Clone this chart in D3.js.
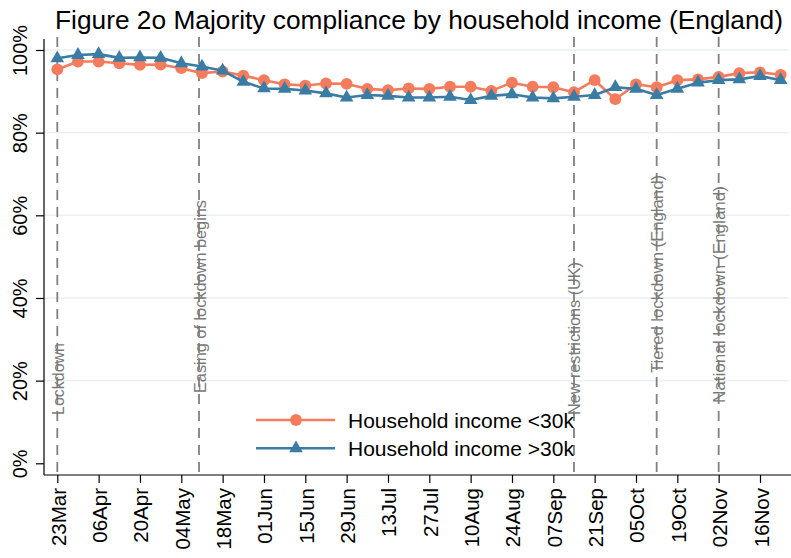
<!DOCTYPE html>
<html>
<head>
<meta charset="utf-8">
<script src="https://cdn.jsdelivr.net/npm/d3@7"></script>
<style>
  html, body { margin: 0; padding: 0; background: #ffffff; }
  svg { display: block; font-family: Arial, "Liberation Sans", sans-serif; }
</style>
</head>
<body>
<svg id="chart" width="791" height="558"></svg>
<script>
// ---------------- data ----------------
const weeks = [
  "2020-03-23","2020-03-30","2020-04-06","2020-04-13","2020-04-20","2020-04-27",
  "2020-05-04","2020-05-11","2020-05-18","2020-05-25","2020-06-01","2020-06-08",
  "2020-06-15","2020-06-22","2020-06-29","2020-07-06","2020-07-13","2020-07-20",
  "2020-07-27","2020-08-03","2020-08-10","2020-08-17","2020-08-24","2020-08-31",
  "2020-09-07","2020-09-14","2020-09-21","2020-09-28","2020-10-05","2020-10-12",
  "2020-10-19","2020-10-26","2020-11-02","2020-11-09","2020-11-16","2020-11-23"
];
const incomeUnder30k = [
  95.3, 97.2, 97.2, 96.8, 96.4, 96.5, 95.6, 94.4, 94.8, 93.8, 92.7, 91.7,
  91.4, 91.9, 91.8, 90.6, 90.3, 90.7, 90.6, 91.1, 91.1, 90.1, 92.1, 91.1,
  91.0, 89.8, 92.7, 88.1, 91.7, 91.0, 92.7, 92.9, 93.5, 94.4, 94.6, 94.0
];
const incomeOver30k = [
  98.0, 98.8, 99.0, 98.1, 98.2, 98.1, 96.8, 96.0, 95.0, 92.3, 90.7, 90.6,
  90.2, 89.5, 88.5, 89.1, 88.9, 88.5, 88.5, 88.7, 87.9, 88.9, 89.3, 88.5,
  88.3, 88.7, 89.1, 91.0, 90.6, 89.1, 90.6, 92.1, 92.7, 92.9, 93.7, 92.7
];
const seriesNames = ["Household income <30k", "Household income >30k"];
const xTickDates = [
  "2020-03-23","2020-04-06","2020-04-20","2020-05-04","2020-05-18","2020-06-01",
  "2020-06-15","2020-06-29","2020-07-13","2020-07-27","2020-08-10","2020-08-24",
  "2020-09-07","2020-09-21","2020-10-05","2020-10-19","2020-11-02","2020-11-16"
];
const yTicks = [0, 20, 40, 60, 80, 100];
const eventDates = ["2020-03-23","2020-05-10","2020-09-14","2020-10-12","2020-11-02"];
const eventLabels = ["Lockdown","Easing of lockdown begins","New restrictions (UK)",
                     "Tiered lockdown (England)","National lockdown (England)"];
const titleText = "Figure 2o Majority compliance by household income (England)";

// ---------------- layout / styles ----------------
const colRed = "#f47c5c";
const colBlue = "#3a7ca3";
const gridCol = "#e9f1f3";
const refCol = "#808080";
const plotLeft = 44, plotRight = 791, plotTop = 39, plotBottom = 475;
// label placement (start y along the line, drawn length)
const eventLabelStart = [415, 393, 415, 373, 403];
const eventLabelLen = [72, 193, 153, 198, 217];

const parse = d3.utcParse("%Y-%m-%d");
const fmt = d3.utcFormat("%d%b");

const svg = d3.select("#chart");

const x = d3.scaleUtc()
  .domain([parse(xTickDates[0]), parse(xTickDates[xTickDates.length - 1])])
  .range([57.3, 760]);
const y = d3.scaleLinear().domain([0, 100]).range([463.3, 50]);

// gridlines
svg.append("g").selectAll("line").data(yTicks.filter(d => d > 0)).join("line")
  .attr("x1", plotLeft).attr("x2", plotRight - 2)
  .attr("y1", d => y(d)).attr("y2", d => y(d))
  .attr("stroke", gridCol).attr("stroke-width", 1.5);

// reference lines
const refG = svg.append("g");
eventDates.forEach((d, i) => {
  const xv = x(parse(d));
  refG.append("line")
    .attr("x1", xv).attr("x2", xv)
    .attr("y1", plotTop - 2).attr("y2", plotBottom)
    .attr("stroke", refCol).attr("stroke-width", 1.8)
    .attr("stroke-dasharray", "10,7");
  refG.append("text")
    .attr("transform", `translate(${xv + 6.5},${eventLabelStart[i]}) rotate(-90)`)
    .attr("text-anchor", "start")
    .attr("font-size", 16)
    .attr("fill", "#7a7a7a")
    .attr("textLength", eventLabelLen[i])
    .attr("lengthAdjust", "spacingAndGlyphs")
    .text(eventLabels[i]);
});

// axes
const yAxis = d3.axisLeft(y).tickValues(yTicks).tickSize(8).tickFormat("");
const yg = svg.append("g").attr("transform", `translate(${plotLeft},0)`).call(yAxis);
yg.select(".domain").remove();
yg.selectAll(".tick line").attr("stroke", "#000").attr("stroke-width", 1.2);
svg.append("line").attr("x1", plotLeft).attr("x2", plotLeft)
  .attr("y1", plotTop).attr("y2", plotBottom).attr("stroke", "#000").attr("stroke-width", 1.2);
yg.selectAll(".tick").append("text")
  .attr("transform", "translate(-17,0) rotate(-90)")
  .attr("text-anchor", "middle")
  .attr("fill", "#000")
  .attr("font-size", 20)
  .text(d => d + "%");

const xAxis = d3.axisBottom(x).tickValues(xTickDates.map(parse)).tickSize(8).tickFormat("");
const xg = svg.append("g").attr("transform", `translate(0,${plotBottom})`).call(xAxis);
xg.select(".domain").remove();
xg.selectAll(".tick line").attr("stroke", "#000").attr("stroke-width", 1.2);
svg.append("line").attr("x1", plotLeft).attr("x2", plotRight)
  .attr("y1", plotBottom).attr("y2", plotBottom).attr("stroke", "#000").attr("stroke-width", 1.2);
xg.selectAll(".tick").append("text")
  .attr("transform", "translate(8,13) rotate(-90)")
  .attr("text-anchor", "end")
  .attr("fill", "#000")
  .attr("font-size", 20.5)
  .text(d => fmt(d));

// series
const line = d3.line().x(d => x(d.date)).y(d => y(d.v));
function series(values, color, marker) {
  const data = weeks.map((w, i) => ({ date: parse(w), v: values[i] }));
  const g = svg.append("g");
  g.append("path").datum(data).attr("d", line)
    .attr("fill", "none").attr("stroke", color).attr("stroke-width", 2.6)
    .attr("stroke-linejoin", "round");
  g.selectAll("path.m").data(data).join("path").attr("class", "m")
    .attr("transform", d => `translate(${x(d.date)},${y(d.v)})`)
    .attr("d", d3.symbol().type(marker).size(marker === d3.symbolCircle ? 110 : 80))
    .attr("fill", color);
}
series(incomeUnder30k, colRed, d3.symbolCircle);
series(incomeOver30k, colBlue, d3.symbolTriangle);

// legend
const legend = svg.append("g");
[[colRed, d3.symbolCircle, 110], [colBlue, d3.symbolTriangle, 80]].forEach((s, i) => {
  const ly = 420 + i * 28.3;
  legend.append("line").attr("x1", 256).attr("x2", 335).attr("y1", ly).attr("y2", ly)
    .attr("stroke", s[0]).attr("stroke-width", 2.6);
  legend.append("path").attr("transform", `translate(296,${ly})`)
    .attr("d", d3.symbol().type(s[1]).size(s[2])).attr("fill", s[0]);
  legend.append("text").attr("x", 348).attr("y", ly + 8)
    .attr("font-size", 21).attr("fill", "#000").text(seriesNames[i]);
});

// title
svg.append("text").attr("x", 55).attr("y", 29)
  .attr("text-anchor", "start").attr("font-size", 25).attr("fill", "#000")
  .attr("textLength", 728).attr("lengthAdjust", "spacingAndGlyphs")
  .text(titleText);
</script>
</body>
</html>
